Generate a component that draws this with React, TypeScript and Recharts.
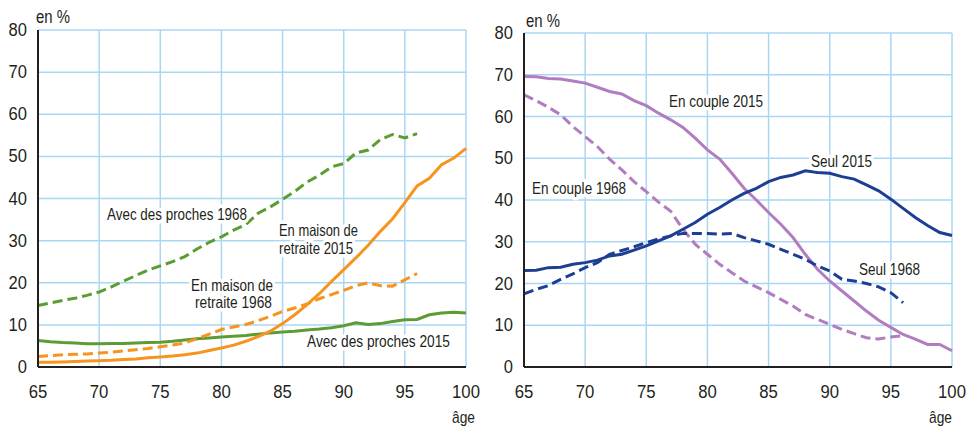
import React from "react";
import { LineChart, Line, XAxis, YAxis, CartesianGrid } from "recharts";

const ages = [65,66,67,68,69,70,71,72,73,74,75,76,77,78,79,80,81,82,83,84,85,86,87,88,89,90,91,92,93,94,95,96,97,98,99,100];
const xTicks = [65, 70, 75, 80, 85, 90, 95, 100];
const yTicks = [0, 10, 20, 30, 40, 50, 60, 70, 80];

// Left panel
const avecProches1968 = [14.6,15.2,15.8,16.3,17.0,17.8,19.0,20.4,21.7,23.0,24.0,25.0,26.2,28.0,29.6,30.9,32.5,33.8,36.5,38.0,39.8,41.7,43.9,45.5,47.5,48.3,50.8,51.5,54.0,55.2,54.4,55.4];
const avecProches2015 = [6.3,6.0,5.8,5.7,5.5,5.5,5.6,5.6,5.7,5.8,5.9,6.1,6.4,6.7,6.9,7.1,7.3,7.5,7.8,8.1,8.3,8.5,8.8,9.0,9.3,9.8,10.5,10.1,10.3,10.8,11.2,11.3,12.4,12.8,13.0,12.8];
const maison1968 = [2.5,2.7,2.9,3.0,3.1,3.3,3.5,3.8,4.1,4.4,4.8,5.2,5.7,6.7,7.8,8.9,9.5,10.1,11.0,12.0,13.2,14.0,15.0,16.2,17.2,18.2,19.3,20.0,19.3,19.2,20.7,22.2];
const maison2015 = [1.1,1.1,1.2,1.3,1.4,1.5,1.6,1.8,1.9,2.2,2.4,2.6,2.9,3.3,3.9,4.5,5.2,6.1,7.2,8.5,10.3,12.4,14.8,17.4,20.3,23.1,25.9,28.9,32.2,35.2,39.0,43.0,44.8,48.0,49.6,51.9];

// Right panel
const couple2015 = [69.6,69.5,69.1,69.0,68.5,68.0,67.0,66.0,65.4,63.8,62.6,60.8,59.2,57.4,54.8,52.0,49.8,46.4,42.8,40.0,37.0,34.2,31.0,27.0,23.4,20.6,18.2,15.8,13.4,11.2,9.5,7.8,6.7,5.4,5.4,3.9];
const couple1968 = [65.2,63.8,62.2,60.4,57.6,55.2,52.8,49.8,47.2,44.4,42.0,39.5,37.3,33.0,29.4,27.0,24.6,22.6,20.6,19.2,17.8,16.2,14.6,12.6,11.4,10.2,9.0,8.0,7.0,6.7,7.2,7.5];
const seul2015 = [23.1,23.2,23.8,23.9,24.6,25.0,25.6,26.6,27.0,28.0,29.0,30.2,31.4,33.0,34.6,36.6,38.2,40.0,41.6,42.8,44.4,45.4,46.0,47.0,46.6,46.4,45.6,45.0,43.6,42.2,40.2,38.0,35.8,33.9,32.2,31.5];
const seul1968 = [17.5,18.6,19.5,21.0,22.3,23.8,25.0,27.0,27.9,28.8,29.8,30.7,31.4,32.0,32.0,32.0,31.8,32.0,31.0,30.2,29.4,28.2,27.0,25.8,24.2,23.0,21.0,20.6,20.0,19.2,17.8,15.4];

const leftData = ages.map((a, i) => ({
  age: a,
  ap1968: avecProches1968[i] ?? null,
  ap2015: avecProches2015[i] ?? null,
  m1968: maison1968[i] ?? null,
  m2015: maison2015[i] ?? null,
}));
const rightData = ages.map((a, i) => ({
  age: a,
  c2015: couple2015[i] ?? null,
  c1968: couple1968[i] ?? null,
  s2015: seul2015[i] ?? null,
  s1968: seul1968[i] ?? null,
}));

const FONT = "'Liberation Sans', Arial, sans-serif";
const GREEN = "#5b9d32";
const ORANGE = "#f7941d";
const PURPLE = "#b27dc0";
const NAVY = "#1d3e92";
const GRID = "#a9d7f2";
const AXIS = "#231f20";
const TEXT = "#231f20";

function XTick(props: any) {
  const { x, y, payload } = props;
  const s = String(payload.value);
  return (
    <text x={x} y={y} dy="0.71em" textAnchor="middle" textLength={s.length * 9.3} lengthAdjust="spacingAndGlyphs"
      style={{ fontFamily: FONT, fontSize: 18, fill: TEXT }}>{s}</text>
  );
}
function YTick(props: any) {
  const { x, y, payload } = props;
  const s = String(payload.value);
  return (
    <text x={x} y={y} dy="0.34em" textAnchor="end" textLength={s.length * 9.2} lengthAdjust="spacingAndGlyphs"
      style={{ fontFamily: FONT, fontSize: 18, fill: TEXT }}>{s}</text>
  );
}

function Panel({ data, children, width, marginTop, marginRight }: any) {
  return (
    <LineChart width={width} height={426} data={data} margin={{ top: marginTop, right: marginRight, bottom: 0, left: 0 }}>
      <CartesianGrid stroke={GRID} strokeWidth={1.5} />
      <XAxis
        dataKey="age"
        type="number"
        domain={[65, 100]}
        ticks={xTicks}
        interval={0}
        height={59}
        tickLine={false}
        tickSize={6}
        tickMargin={12}
        axisLine={{ stroke: AXIS, strokeWidth: 2 }}
        tick={<XTick />}
      />
      <YAxis
        type="number"
        domain={[0, 80]}
        ticks={yTicks}
        interval={0}
        width={38}
        tickLine={false}
        tickSize={6}
        tickMargin={5}
        axisLine={{ stroke: AXIS, strokeWidth: 2 }}
        tick={<YTick />}
      />
      {children}
    </LineChart>
  );
}

const annoStyle: any = {
  fontFamily: FONT,
  fontSize: 16.5,
  fill: TEXT,
  stroke: "white",
  strokeWidth: 7,
  paintOrder: "stroke",
  strokeLinejoin: "round",
};

function Anno({ x, y, w, children }: any) {
  return (
    <text x={x} y={y} textLength={w} lengthAdjust="spacingAndGlyphs" style={annoStyle}>{children}</text>
  );
}

export default function App() {
  return (
    <div style={{ position: "absolute", left: 0, top: 0, width: 968, height: 426, background: "white", overflow: "hidden" }}>
      <div style={{ position: "absolute", left: 0, top: 0 }}>
        <Panel data={leftData} width={490} marginTop={30} marginRight={24}>
          <Line dataKey="ap1968" stroke={GREEN} strokeWidth={3} strokeDasharray="10 5" dot={false} activeDot={false} isAnimationActive={false} />
          <Line dataKey="ap2015" stroke={GREEN} strokeWidth={3} dot={false} activeDot={false} isAnimationActive={false} />
          <Line dataKey="m1968" stroke={ORANGE} strokeWidth={3} strokeDasharray="10 5" dot={false} activeDot={false} isAnimationActive={false} />
          <Line dataKey="m2015" stroke={ORANGE} strokeWidth={3} dot={false} activeDot={false} isAnimationActive={false} />
        </Panel>
      </div>
      <div style={{ position: "absolute", left: 486, top: 0 }}>
        <Panel data={rightData} width={482} marginTop={33} marginRight={16}>
          <Line dataKey="c1968" stroke={PURPLE} strokeWidth={3} strokeDasharray="10 5" dot={false} activeDot={false} isAnimationActive={false} />
          <Line dataKey="c2015" stroke={PURPLE} strokeWidth={3} dot={false} activeDot={false} isAnimationActive={false} />
          <Line dataKey="s1968" stroke={NAVY} strokeWidth={3} strokeDasharray="10 5" dot={false} activeDot={false} isAnimationActive={false} />
          <Line dataKey="s2015" stroke={NAVY} strokeWidth={3} dot={false} activeDot={false} isAnimationActive={false} />
        </Panel>
      </div>
      <svg width={968} height={426} style={{ position: "absolute", left: 0, top: 0, pointerEvents: "none" }}>
        <text x={36} y={23} textLength={34} lengthAdjust="spacingAndGlyphs" style={{ fontFamily: FONT, fontSize: 18, fill: TEXT } as any}>en %</text>
        <text x={526} y={27} textLength={34} lengthAdjust="spacingAndGlyphs" style={{ fontFamily: FONT, fontSize: 18, fill: TEXT } as any}>en %</text>
        <text x={452} y={423} textLength={23} lengthAdjust="spacingAndGlyphs" style={{ fontFamily: FONT, fontSize: 17, fill: TEXT } as any}>âge</text>
        <text x={929} y={423} textLength={23} lengthAdjust="spacingAndGlyphs" style={{ fontFamily: FONT, fontSize: 17, fill: TEXT } as any}>âge</text>

        <Anno x={107} y={220} w={140}>Avec des proches 1968</Anno>
        <Anno x={279} y={236} w={79}>En maison de</Anno>
        <Anno x={279} y={254} w={74}>retraite 2015</Anno>
        <Anno x={191} y={291} w={82}>En maison de</Anno>
        <Anno x={195} y={308} w={77}>retraite 1968</Anno>
        <Anno x={307} y={347} w={143}>Avec des proches  2015</Anno>

        <Anno x={669} y={107} w={94}>En couple 2015</Anno>
        <Anno x={811} y={167} w={61}>Seul 2015</Anno>
        <Anno x={532} y={194} w={94}>En couple 1968</Anno>
        <Anno x={859} y={275} w={61}>Seul 1968</Anno>
      </svg>
    </div>
  );
}
